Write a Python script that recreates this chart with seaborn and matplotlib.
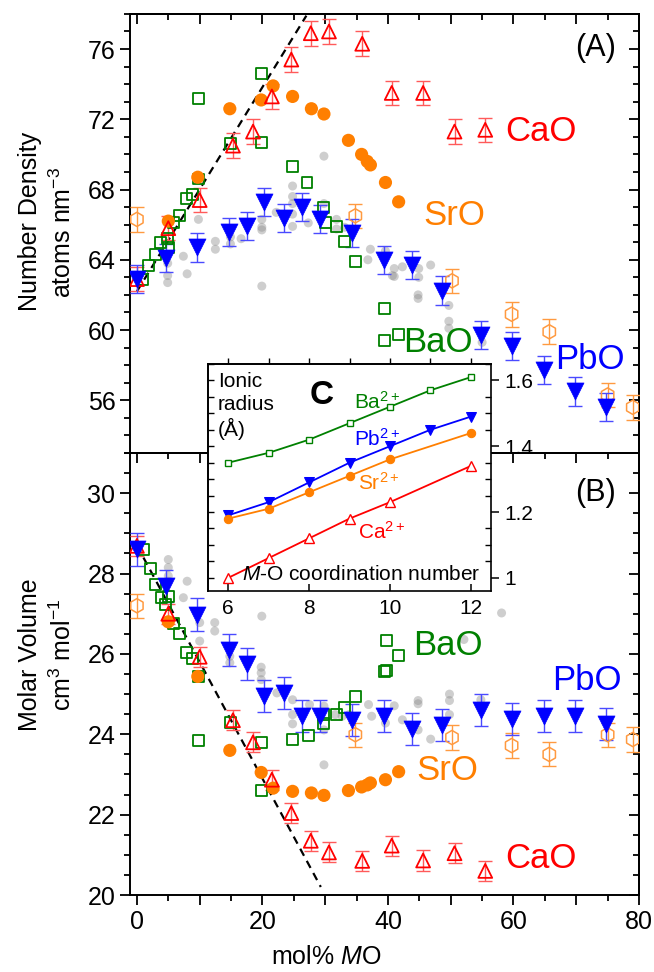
import numpy as np
import pandas as pd
import matplotlib
matplotlib.use("Agg")
import matplotlib.pyplot as plt
import seaborn as sns
from matplotlib.ticker import MultipleLocator, FuncFormatter, NullFormatter

sns.set_theme(style="ticks")
plt.rcParams["font.family"] = ["Liberation Sans", "DejaVu Sans"]
plt.rcParams["mathtext.fontset"] = "custom"
plt.rcParams["mathtext.rm"] = "Liberation Sans"
plt.rcParams["mathtext.it"] = "Liberation Sans:italic"
plt.rcParams["mathtext.bf"] = "Liberation Sans:bold"
for k in ["text.color", "axes.labelcolor", "xtick.color", "ytick.color", "axes.edgecolor"]:
    plt.rcParams[k] = "black"

# ---------------- data: panel A (number density, atoms nm^-3) ----------------
cao_x = [0, 5.0, 10.0, 15.3, 18.5, 21.5, 24.6, 27.7, 30.6, 35.9, 40.6, 45.6, 50.6, 55.5]
cao_nd = [62.9, 65.8, 67.4, 70.5, 71.3, 73.3, 75.4, 76.9, 77.0, 76.3, 73.5, 73.5, 71.3, 71.4]
cao_nd_err = [0.7] * 14
cao_mv = [28.69, 27.0, 25.93, 24.35, 23.8, 22.87, 22.04, 21.35, 21.06, 20.85, 21.23, 20.86, 21.04, 20.6]
cao_mv_err = [0.25] * 14

sro_x = [5.0, 9.7, 14.8, 19.8, 21.7, 24.8, 27.8, 29.8, 33.7, 35.8, 36.7, 37.2, 39.6, 41.7]
sro_nd = [66.2, 68.7, 72.6, 73.1, 73.9, 73.3, 72.6, 72.3, 70.8, 70.0, 69.6, 69.4, 68.4, 67.3]
sro_mv = [26.8, 25.44, 23.6, 23.05, 22.66, 22.58, 22.54, 22.48, 22.6, 22.69, 22.74, 22.79, 22.87, 23.07]

sro2_x = [0, 34.8, 50.2, 59.7, 65.7, 75.0, 79.0]
sro2_nd = [66.3, 66.5, 62.8, 60.9, 59.9, 56.3, 55.6]
sro2_nd_err = [0.7] * 7
sro2_mv = [27.2, 23.99, 23.92, 23.72, 23.5, 23.99, 23.87]
sro2_mv_err = [0.3] * 7

pbo_x = [0, 4.7, 9.6, 14.6, 17.5, 20.3, 23.4, 26.3, 29.2, 34.2, 39.4, 43.9, 48.6, 54.8, 59.7, 64.9, 69.8, 74.7]
pbo_nd = [62.9, 64.1, 64.7, 65.6, 65.9, 67.3, 66.4, 67.0, 66.3, 65.5, 64.0, 63.7, 62.25, 59.7, 59.1, 57.7, 56.5, 55.6]
pbo_nd_err = [0.8] * 18
pbo_mv = [28.6, 27.69, 26.98, 26.1, 25.74, 24.95, 25.03, 24.45, 24.45, 24.36, 24.45, 24.13, 24.24, 24.61, 24.38, 24.45, 24.45, 24.26]
pbo_mv_err = [0.4] * 18

bao_nd_x = [0.9, 1.9, 2.9, 3.7, 4.9, 5.0, 5.8, 6.8, 7.9, 8.8, 9.8, 9.8, 14.9, 19.8, 19.8,
            24.8, 27.1, 29.8, 30.0, 31.8, 33.1, 34.9, 39.5, 39.5, 41.7]
bao_nd = [62.9, 63.7, 64.3, 65.0, 65.2, 64.7, 66.1, 66.5, 67.5, 67.7, 68.6, 73.2, 70.6, 70.7, 74.6,
          69.3, 68.4, 67.0, 66.1, 65.9, 65.05, 63.9, 61.2, 59.4, 59.75]
bao_mv_x = [1.0, 2.1, 2.9, 3.9, 5.0, 4.6, 5.8, 6.8, 7.9, 8.8, 9.8, 9.8, 14.9, 19.8, 19.8,
            24.8, 27.3, 29.8, 29.8, 31.8, 33.1, 34.9, 39.5, 39.7, 39.7, 41.7]
bao_mv = [28.6, 28.13, 27.73, 27.4, 27.44, 27.23, 26.75, 26.5, 26.04, 25.88, 25.44, 23.85, 24.3, 23.8, 22.6,
          23.88, 23.97, 24.49, 24.26, 24.49, 24.66, 24.95, 25.57, 26.34, 25.59, 25.97]

gray_nd_x = [4.9, 4.9, 4.9, 7.4, 8.0, 9.8, 12.5, 12.5, 14.9, 14.9, 16.6, 19.9, 19.9, 19.9, 19.9,
             22.2, 24.8, 24.8, 24.8, 24.8, 24.8, 27.3, 29.8, 29.8, 31.8, 31.8, 33.1, 36.8, 37.2,
             39.6, 39.6, 40.7, 41.0, 41.0, 42.3, 44.8, 44.8, 44.9, 44.9, 46.8, 49.7, 49.7, 49.7, 55.0]
gray_nd = [63.8, 63.1, 62.7, 64.2, 63.2, 66.3, 65.05, 64.6, 65.3, 64.9, 65.2, 66.3, 65.85, 65.7, 62.5,
           66.7, 68.2, 67.6, 67.2, 66.6, 65.9, 66.1, 69.9, 67.2, 66.3, 65.75, 65.85, 64.0, 64.6,
           64.5, 64.2, 63.1, 63.5, 63.05, 63.6, 62.0, 61.8, 63.5, 63.0, 63.7, 61.4, 60.5, 60.1, 59.3]
gray_mv_x = [5.0, 5.0, 5.0, 5.0, 8.0, 7.4, 10.0, 10.0, 12.4, 12.4, 14.8, 14.8, 19.9, 19.8, 19.8, 19.8,
             22.3, 24.8, 24.8, 24.8, 27.5, 29.8, 29.8, 29.8, 31.6, 32.7, 33.8, 36.9, 37.4, 39.6,
             41.0, 42.3, 44.8, 44.8, 44.8, 46.8, 49.8, 49.8, 49.8, 52.1, 54.8, 58.1]
gray_mv = [28.35, 28.15, 27.94, 27.81, 27.81, 27.4, 26.78, 26.32, 26.78, 26.57, 25.94, 25.78, 26.94, 25.67, 25.53, 25.36,
           25.03, 24.86, 24.49, 24.26, 24.74, 24.7, 24.11, 23.24, 24.49, 24.45, 24.49, 24.74, 24.45, 24.28,
           24.71, 24.36, 24.84, 24.76, 24.11, 23.88, 25.0, 24.84, 24.49, 26.36, 24.86, 27.02]

guide_nd_x = [0, 27.0]
guide_nd = [62.2, 77.9]
guide_mv_x = [0, 29.3]
guide_mv = [28.7, 20.2]

# ---------------- inset C: Shannon ionic radii ----------------
cn_ca = [6, 7, 8, 9, 10, 12]
r_ca = [1.00, 1.06, 1.12, 1.18, 1.23, 1.34]
cn_sr = [6, 7, 8, 9, 10, 12]
r_sr = [1.18, 1.21, 1.26, 1.31, 1.36, 1.44]
cn_ba = [6, 7, 8, 9, 10, 11, 12]
r_ba = [1.35, 1.38, 1.42, 1.47, 1.52, 1.57, 1.61]
cn_pb = [6, 7, 8, 9, 10, 11, 12]
r_pb = [1.19, 1.23, 1.29, 1.35, 1.40, 1.45, 1.49]

RED, ORANGE, GREEN, BLUE = "#ff0000", "#ff7f00", "#008000", "#0000ff"
RED_E, ORANGE_E, BLUE_E = "#ff5a5a", "#ff9a40", "#4a4aff"

fig = plt.figure(figsize=(6.54, 9.72), dpi=100)
ax_a = fig.add_axes([0.1988, 0.534, 0.7783, 0.4517])
ax_b = fig.add_axes([0.1988, 0.0792, 0.7783, 0.4547])


def pts(ax, x, y, marker, s, col, fill=True, lw=1.3, z=4, alpha=1.0):
    sns.scatterplot(x=x, y=y, ax=ax, marker=marker, s=s, color=col, linewidth=lw,
                    zorder=z, legend=False, alpha=alpha)
    coll = ax.collections[-1]
    if not fill:
        coll.set_facecolor("none")
    coll.set_edgecolor(col if lw > 0 else "none")
    return coll


def errs(ax, x, y, e, col):
    ax.errorbar(x, y, yerr=e, fmt="none", ecolor=col, elinewidth=1.0, capsize=5,
                capthick=1.0, zorder=3)


for ax, gx, gy in [(ax_a, gray_nd_x, gray_nd), (ax_b, gray_mv_x, gray_mv)]:
    pts(ax, gx, gy, "o", 42, "#8c8c8c", lw=0, z=1, alpha=0.42)

ax_a.plot(guide_nd_x, guide_nd, color="black", lw=1.6, dashes=(3.6, 2.6), zorder=2)
ax_b.plot(guide_mv_x, guide_mv, color="black", lw=1.6, dashes=(3.6, 2.6), zorder=2)

# panel A
pts(ax_a, bao_nd_x, bao_nd, "s", 62, GREEN, fill=False)
errs(ax_a, sro2_x, sro2_nd, sro2_nd_err, ORANGE_E)
pts(ax_a, sro2_x, sro2_nd, "h", 105, ORANGE_E, fill=False, lw=1.1)
pts(ax_a, sro_x, sro_nd, "o", 90, ORANGE, lw=0)
errs(ax_a, cao_x, cao_nd, cao_nd_err, RED_E)
pts(ax_a, cao_x, cao_nd, "^", 100, RED, fill=False)
errs(ax_a, pbo_x, pbo_nd, pbo_nd_err, BLUE_E)
pts(ax_a, pbo_x, pbo_nd, "v", 150, BLUE, lw=0.5, z=5)

# panel B
pts(ax_b, bao_mv_x, bao_mv, "s", 62, GREEN, fill=False)
errs(ax_b, sro2_x, sro2_mv, sro2_mv_err, ORANGE_E)
pts(ax_b, sro2_x, sro2_mv, "h", 105, ORANGE_E, fill=False, lw=1.1)
pts(ax_b, sro_x, sro_mv, "o", 90, ORANGE, lw=0)
errs(ax_b, cao_x, cao_mv, cao_mv_err, RED_E)
pts(ax_b, cao_x, cao_mv, "^", 100, RED, fill=False)
errs(ax_b, pbo_x, pbo_mv, pbo_mv_err, BLUE_E)
pts(ax_b, pbo_x, pbo_mv, "v", 150, BLUE, lw=0.5, z=5)

ax_a.set_xlim(-1.1, 80)
ax_b.set_xlim(-1.1, 80)
ax_a.set_ylim(53, 78)
ax_b.set_ylim(20, 31)

TICK_FS = 18
lab20 = FuncFormatter(lambda v, p: f"{v:.0f}" if abs(v % 20) < 1e-6 else "")

for ax, ymaj, ymin, xlab in [(ax_a, 4, 1, False), (ax_b, 2, 0.5, True)]:
    ax.set_xlabel("")
    ax.set_ylabel("")
    for sp in ax.spines.values():
        sp.set_linewidth(1.4)
        sp.set_color("black")
    ax.xaxis.set_major_locator(MultipleLocator(10))
    ax.xaxis.set_minor_locator(MultipleLocator(5))
    ax.xaxis.set_major_formatter(lab20)
    ax.yaxis.set_major_locator(MultipleLocator(ymaj))
    ax.yaxis.set_minor_locator(MultipleLocator(ymin))
    ax.tick_params(which="both", direction="out", width=1.3, labelsize=TICK_FS, colors="black",
                   left=True, bottom=xlab, labelbottom=xlab, right=False, top=False)
    ax.tick_params(which="major", length=7)
    ax.tick_params(which="minor", length=4)
    sy = ax.secondary_yaxis("right")
    sy.yaxis.set_major_locator(MultipleLocator(ymaj))
    sy.yaxis.set_minor_locator(MultipleLocator(ymin))
    sy.yaxis.set_major_formatter(NullFormatter())
    sy.tick_params(which="both", direction="in", width=1.3)
    sy.tick_params(which="major", length=7)
    sy.tick_params(which="minor", length=4)
    sy.spines["right"].set_linewidth(1.4)
    sx = ax.secondary_xaxis("top")
    sx.xaxis.set_major_locator(MultipleLocator(10))
    sx.xaxis.set_minor_locator(MultipleLocator(5))
    sx.xaxis.set_major_formatter(NullFormatter())
    sx.tick_params(which="both", direction="in", width=1.3)
    sx.tick_params(which="major", length=7)
    sx.tick_params(which="minor", length=4)
    sx.spines["top"].set_linewidth(1.4)

ax_b.set_xlabel("mol% $M$O", fontsize=18, color="black")
ax_b.xaxis.set_label_coords((326 - 130) / 509, -0.112)

LAB_FS = 18
fig.text(30 / 654, 1 - 221 / 972, "Number Density", rotation=90, ha="center", va="center", fontsize=LAB_FS)
fig.text(63 / 654, 1 - 232 / 972, "atoms nm$^{-3}$", rotation=90, ha="center", va="center", fontsize=LAB_FS)
fig.text(30 / 654, 1 - 655 / 972, "Molar Volume", rotation=90, ha="center", va="center", fontsize=LAB_FS)
fig.text(63 / 654, 1 - 655 / 972, "cm$^3$ mol$^{-1}$", rotation=90, ha="center", va="center", fontsize=LAB_FS)

BIG = 25
ax_a.text(73, 76.05, "(A)", fontsize=22, ha="center", va="center")
ax_b.text(73, 30.0, "(B)", fontsize=22, ha="center", va="center")
ax_a.text(64.4, 71.3, "CaO", color=RED, fontsize=BIG, ha="center", va="center")
ax_a.text(50.5, 66.5, "SrO", color=ORANGE, fontsize=BIG, ha="center", va="center")
ax_a.text(47.9, 59.3, "BaO", color=GREEN, fontsize=BIG, ha="center", va="center")
ax_a.text(72.1, 58.3, "PbO", color=BLUE, fontsize=BIG, ha="center", va="center")
ax_b.text(49.5, 26.2, "BaO", color=GREEN, fontsize=BIG, ha="center", va="center")
ax_b.text(71.7, 25.35, "PbO", color=BLUE, fontsize=BIG, ha="center", va="center")
ax_b.text(49.5, 23.1, "SrO", color=ORANGE, fontsize=BIG, ha="center", va="center")
ax_b.text(64.4, 20.92, "CaO", color=RED, fontsize=BIG, ha="center", va="center")

# ---------------- inset ----------------
ax_in = fig.add_axes([208 / 654, 1 - 591 / 972, 283 / 654, 227 / 972])
ax_in.set_zorder(10)
ax_in.set_facecolor("white")
sns.lineplot(x=cn_ba, y=r_ba, ax=ax_in, color=GREEN, marker="s", markersize=5, lw=1.3,
             markerfacecolor="white", markeredgecolor=GREEN, markeredgewidth=1.0)
sns.lineplot(x=cn_pb, y=r_pb, ax=ax_in, color=BLUE, marker="v", markersize=6.5, lw=1.3,
             markeredgecolor=BLUE)
sns.lineplot(x=cn_sr, y=r_sr, ax=ax_in, color=ORANGE, marker="o", markersize=6, lw=1.3,
             markeredgecolor=ORANGE)
sns.lineplot(x=cn_ca, y=r_ca, ax=ax_in, color=RED, marker="^", markersize=6.5, lw=1.3,
             markerfacecolor="white", markeredgecolor=RED, markeredgewidth=1.0)
ax_in.set_xlim(5.5, 12.5)
ax_in.set_ylim(0.96, 1.65)
ax_in.set_xlabel("")
ax_in.set_ylabel("")
for sp in ax_in.spines.values():
    sp.set_linewidth(1.2)
    sp.set_color("black")
ax_in.xaxis.set_major_locator(MultipleLocator(2))
ax_in.xaxis.set_minor_locator(MultipleLocator(1))
ax_in.yaxis.tick_right()
ax_in.yaxis.set_major_locator(MultipleLocator(0.2))
ax_in.yaxis.set_minor_locator(MultipleLocator(0.05))
ax_in.yaxis.set_major_formatter(FuncFormatter(lambda v, p: f"{v:.1f}".rstrip("0").rstrip(".")))
ax_in.tick_params(axis="x", which="both", direction="in", labelsize=15, width=1.1, colors="black", pad=6)
ax_in.tick_params(axis="x", which="major", length=5)
ax_in.tick_params(axis="x", which="minor", length=0)
ax_in.tick_params(axis="y", which="major", direction="out", length=6, width=1.1, labelsize=15, colors="black")
ax_in.tick_params(axis="y", which="minor", direction="in", length=4, width=1.0)
sl = ax_in.secondary_yaxis("left")
sl.yaxis.set_major_locator(MultipleLocator(0.1))
sl.yaxis.set_minor_locator(MultipleLocator(0.05))
sl.yaxis.set_major_formatter(NullFormatter())
sl.tick_params(which="both", direction="in", width=1.0, length=4)
st = ax_in.secondary_xaxis("top")
st.xaxis.set_major_locator(MultipleLocator(1))
st.xaxis.set_major_formatter(NullFormatter())
st.tick_params(which="both", direction="out", width=1.0, length=4)

IFS = 15
ax_in.text(0.035, 0.965, "Ionic\nradius\n(Å)", transform=ax_in.transAxes, ha="left", va="top",
           fontsize=IFS, linespacing=1.25)
ax_in.text(0.40, 0.86, "C", transform=ax_in.transAxes, ha="center", va="center", fontsize=24,
           fontweight="bold")
ax_in.text(9.1, 1.515, "Ba$^{2+}$", color=GREEN, fontsize=IFS, ha="left", va="baseline")
ax_in.text(9.1, 1.40, "Pb$^{2+}$", color=BLUE, fontsize=IFS, ha="left", va="baseline")
ax_in.text(9.2, 1.267, "Sr$^{2+}$", color=ORANGE, fontsize=IFS, ha="left", va="baseline")
ax_in.text(9.2, 1.12, "Ca$^{2+}$", color=RED, fontsize=IFS, ha="left", va="baseline")
ax_in.text(0.12, 0.03, "$M$-O coordination number", transform=ax_in.transAxes, ha="left",
           va="bottom", fontsize=IFS)

fig.savefig("out.png", dpi=100)
